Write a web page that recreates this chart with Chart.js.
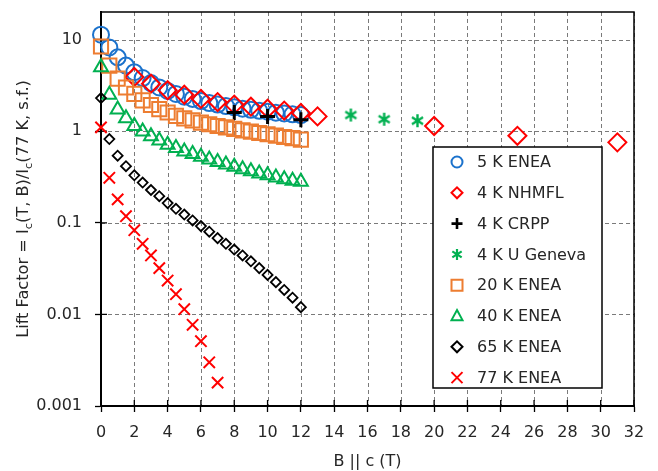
<!DOCTYPE html>
<html><head><meta charset="utf-8">
<script src="https://cdn.jsdelivr.net/npm/chart.js"></script>
<style>html,body{margin:0;padding:0;background:#fff;}#wrap{width:658px;height:471px;position:relative;}</style>
</head><body><div id="wrap"><canvas id="c" width="658" height="471"></canvas></div>
<script>
// ---- data ----
const seriesLabels = ['5 K ENEA','4 K NHMFL','4 K CRPP','4 K U Geneva','20 K ENEA','40 K ENEA','65 K ENEA','77 K ENEA'];
const fieldENEA = [0,0.5,1,1.5,2,2.5,3,3.5,4,4.5,5,5.5,6,6.5,7,7.5,8,8.5,9,9.5,10,10.5,11,11.5,12];
const field77K = [0,0.5,1,1.5,2,2.5,3,3.5,4,4.5,5,5.5,6,6.5,7];
const fieldNHMFL = [2,3,4,5,6,7,8,9,10,11,12,13,20,25,31];
const fieldCRPP = [8,10,12];
const fieldGeneva = [15,17,19];
const lift5K = [11.3,8.2,6.4,5.2,4.4,3.8,3.35,3.0,2.75,2.55,2.38,2.25,2.13,2.03,1.95,1.88,1.82,1.76,1.71,1.67,1.63,1.59,1.56,1.53,1.5];
const liftNHMFL = [3.9,3.3,2.8,2.5,2.25,2.08,1.95,1.85,1.76,1.68,1.58,1.45,1.14,0.89,0.755];
const liftCRPP = [1.6,1.45,1.33];
const liftGeneva = [1.5,1.35,1.3];
const lift20K = [8.4,5.2,3.75,3.0,2.55,2.17,1.93,1.74,1.6,1.47,1.38,1.31,1.24,1.19,1.14,1.10,1.06,1.02,0.99,0.955,0.925,0.895,0.865,0.84,0.81];
const lift40K = [5.0,2.5,1.73,1.38,1.14,0.99,0.88,0.79,0.71,0.656,0.60,0.565,0.525,0.49,0.46,0.433,0.41,0.385,0.365,0.345,0.33,0.312,0.298,0.288,0.28];
const lift65K = [2.3,0.82,0.54,0.415,0.33,0.275,0.228,0.195,0.164,0.142,0.123,0.106,0.092,0.080,0.068,0.059,0.051,0.044,0.038,0.032,0.027,0.0225,0.0185,0.0152,0.012];
const lift77K = [1.1,0.31,0.18,0.118,0.083,0.059,0.044,0.032,0.0234,0.0166,0.0114,0.0077,0.0051,0.003,0.0018];
const yTickValues = [0.001,0.01,0.1,1,10];
const xAxisTitle = 'B || c (T)';
const yTitleParts = [['Lift Factor = I',false],['c',true],['(T, B)/I',false],['c',true],['(77 K, s.f.)',false]];

// ---- styling ----
const FONT = '"DejaVu Sans", sans-serif';
const TXT = '#262626';
const BLUE='#1b72cc', RED='#ff0000', BLACK='#000000', GREEN='#00b050', ORANGE='#ed7d31';

function asteriskCanvas(size, lw){
  const cv=document.createElement('canvas'); cv.width=size; cv.height=size;
  const g=cv.getContext('2d'); g.strokeStyle=GREEN; g.lineWidth=lw; g.lineCap='butt';
  const c=size/2, r=size/2-1;
  g.beginPath();
  g.moveTo(c,c-r); g.lineTo(c,c+r);
  g.moveTo(c-r*0.85,c-r*0.55); g.lineTo(c+r*0.85,c+r*0.55);
  g.moveTo(c-r*0.85,c+r*0.55); g.lineTo(c+r*0.85,c-r*0.55);
  g.stroke();
  return cv;
}
const asteriskBig = asteriskCanvas(15,2.4);

const pts = (xs,ys)=>xs.map((x,i)=>({x:x,y:ys[i]}));
const styleDefs = [
  {c:BLUE, s:'circle', r:8, w:2},
  {c:RED, s:'rectRot', r:9, w:2},
  {c:BLACK, s:'cross', r:7.5, w:3},
  {c:GREEN, s:asteriskBig, r:7, w:2},
  {c:ORANGE, s:'rect', r:10, w:2},
  {c:GREEN, s:'triangle', r:8, w:2},
  {c:BLACK, s:'rectRot', r:5, w:1.8},
  {c:RED, s:'crossRot', r:8, w:2}
];
const dataPairs = [[fieldENEA,lift5K],[fieldNHMFL,liftNHMFL],[fieldCRPP,liftCRPP],[fieldGeneva,liftGeneva],
  [fieldENEA,lift20K],[fieldENEA,lift40K],[fieldENEA,lift65K],[field77K,lift77K]];

const datasets = seriesLabels.map((lab,i)=>({
  label: lab,
  data: pts(dataPairs[i][0], dataPairs[i][1]),
  showLine:false,
  pointStyle: styleDefs[i].s,
  pointRadius: styleDefs[i].r,
  pointBorderWidth: styleDefs[i].w,
  pointBorderColor: styleDefs[i].c,
  pointBackgroundColor: 'rgba(0,0,0,0)',
  clip: false,
  order: -i
}));

const decorPlugin = {
  id:'decor',
  beforeDraw(chart){
    const {ctx, chartArea:a, scales:{x,y}} = chart;
    // dashed grid
    ctx.save();
    ctx.strokeStyle='#7a7a7a'; ctx.lineWidth=1; ctx.setLineDash([4,3]);
    ctx.beginPath();
    x.ticks.forEach(t=>{const px=Math.round(x.getPixelForValue(t.value))+0.5; ctx.moveTo(px,a.top); ctx.lineTo(px,a.bottom);});
    y.ticks.forEach(t=>{const py=Math.round(y.getPixelForValue(t.value))+0.5; ctx.moveTo(a.left,py); ctx.lineTo(a.right,py);});
    ctx.stroke();
    ctx.restore();
  },
  beforeDatasetsDraw(chart){
    const {ctx, chartArea:a, scales:{x,y}} = chart;
    ctx.save();
    ctx.strokeStyle='#000'; ctx.lineWidth=1.5;
    ctx.beginPath();
    ctx.moveTo(a.left, a.top); ctx.lineTo(a.right, a.top); ctx.lineTo(a.right, a.bottom);
    ctx.stroke();
    ctx.lineWidth=1.3;
    ctx.beginPath();
    x.ticks.forEach(t=>{const px=x.getPixelForValue(t.value); ctx.moveTo(px,a.bottom); ctx.lineTo(px,a.bottom-6);});
    y.ticks.forEach(t=>{const py=y.getPixelForValue(t.value); ctx.moveTo(a.left,py); ctx.lineTo(a.left+6,py);});
    ctx.stroke();
    ctx.restore();
  },
  afterDraw(chart){
    const {ctx, chartArea:a} = chart;
    // y title with subscripts, fitted to the reference length
    ctx.save();
    ctx.translate(24,(a.top+a.bottom)/2);
    ctx.rotate(-Math.PI/2);
    ctx.fillStyle=TXT; ctx.textBaseline='middle';
    const target=258;
    let tot100=0;
    yTitleParts.forEach(p=>{ctx.font=(p[1]?70:100)+'px '+FONT; tot100+=ctx.measureText(p[0]).width;});
    const fs=100*target/tot100;
    const big=fs.toFixed(2)+'px '+FONT, small=(fs*0.7).toFixed(2)+'px '+FONT;
    let tot=0;
    yTitleParts.forEach(p=>{ctx.font=p[1]?small:big; tot+=ctx.measureText(p[0]).width;});
    let cx=-tot/2;
    yTitleParts.forEach(p=>{ctx.font=p[1]?small:big; ctx.fillText(p[0],cx,p[1]?fs*0.3:0); cx+=ctx.measureText(p[0]).width;});
    ctx.restore();
    // legend
    const L=433, T=147, R=602, Bt=388;
    ctx.save();
    ctx.fillStyle='#fff'; ctx.fillRect(L,T,R-L,Bt-T);
    ctx.strokeStyle='#000'; ctx.lineWidth=1.5; ctx.strokeRect(L,T,R-L,Bt-T);
    ctx.font='16px '+FONT; ctx.textBaseline='middle';
    seriesLabels.forEach((lab,i)=>{
      const yy=162+30.8*i, xx=457;
      drawSym(ctx,i,xx,yy);
      ctx.fillStyle=TXT;
      ctx.fillText(lab,477,yy+1);
    });
    ctx.restore();
  }
};
function drawSym(ctx,i,x,y){
  const st=styleDefs[i];
  ctx.save(); ctx.strokeStyle=st.c; ctx.lineWidth=2; ctx.beginPath();
  const r=5.5;
  switch(i){
    case 0: ctx.arc(x,y,r,0,Math.PI*2); break;
    case 1: case 6: ctx.moveTo(x-r,y); ctx.lineTo(x,y-r); ctx.lineTo(x+r,y); ctx.lineTo(x,y+r); ctx.closePath(); break;
    case 2: ctx.lineWidth=2.6; ctx.moveTo(x-r,y); ctx.lineTo(x+r,y); ctx.moveTo(x,y-r); ctx.lineTo(x,y+r); break;
    case 3: ctx.lineWidth=2.2; ctx.moveTo(x,y-r); ctx.lineTo(x,y+r); ctx.moveTo(x-r*0.85,y-r*0.55); ctx.lineTo(x+r*0.85,y+r*0.55); ctx.moveTo(x-r*0.85,y+r*0.55); ctx.lineTo(x+r*0.85,y-r*0.55); break;
    case 4: ctx.rect(x-r,y-r,2*r,2*r); break;
    case 5: ctx.moveTo(x,y-r-0.5); ctx.lineTo(x+r,y+r*0.75); ctx.lineTo(x-r,y+r*0.75); ctx.closePath(); break;
    case 7: ctx.moveTo(x-r,y-r); ctx.lineTo(x+r,y+r); ctx.moveTo(x-r,y+r); ctx.lineTo(x+r,y-r); break;
  }
  ctx.stroke(); ctx.restore();
}

new Chart(document.getElementById('c'), {
  type:'scatter',
  data:{datasets},
  plugins:[decorPlugin],
  options:{
    responsive:false, animation:false, events:[],
    layout:{padding:{left:0,right:24,top:7,bottom:0}},
    plugins:{legend:{display:false}, tooltip:{enabled:false}},
    scales:{
      x:{
        type:'linear', min:0, max:32,
        ticks:{stepSize:2, color:TXT, font:{family:FONT,size:16}, padding:11, maxRotation:0, autoSkip:false},
        grid:{drawOnChartArea:false, color:'#000', lineWidth:1, tickLength:6, tickColor:'#000', tickWidth:1.3},
        border:{display:true, color:'#000', width:2},
        title:{display:true, text:xAxisTitle, color:TXT, font:{family:FONT,size:16}, padding:{top:4,bottom:0}},
        afterFit(s){ s.height=65; }
      },
      y:{
        type:'logarithmic', min:0.001, max:20,
        afterBuildTicks(s){ s.ticks = yTickValues.map(v=>({value:v})); },
        ticks:{color:TXT, font:{family:FONT,size:16}, padding:13, callback:(v)=>String(v)},
        grid:{drawOnChartArea:false, color:'#000', lineWidth:1, tickLength:6, tickColor:'#000', tickWidth:1.3},
        border:{display:true, color:'#000', width:2},
        afterFit(s){ s.width=101; s.paddingTop=0; s.paddingBottom=0; }
      }
    }
  }
});
</script></body></html>
